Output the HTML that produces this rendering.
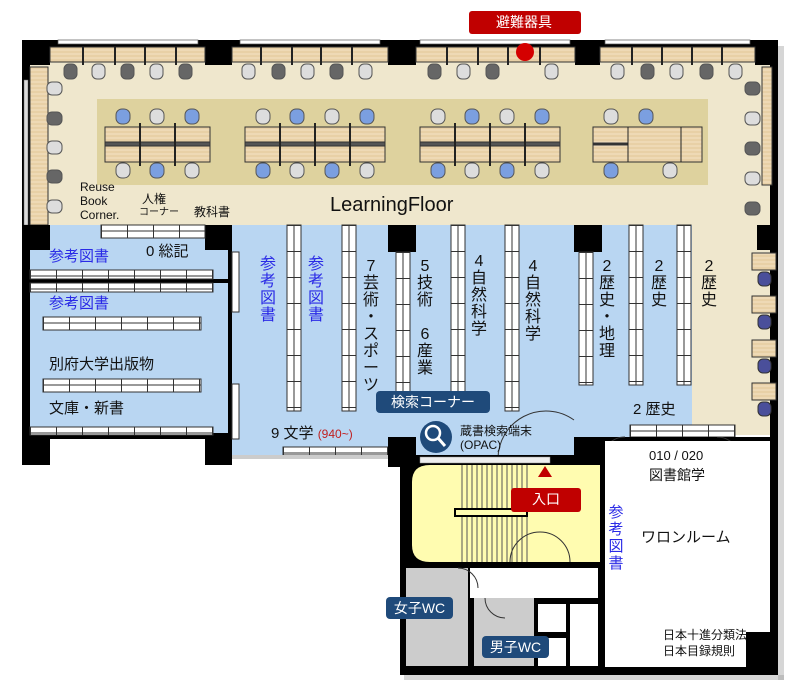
<!DOCTYPE html>
<html><head><meta charset="utf-8"><style>
body{margin:0;width:800px;height:688px;position:relative;background:#fff;overflow:hidden;font-family:"Liberation Sans","Noto Sans CJK JP",sans-serif;}
svg{position:absolute;left:0;top:0}
.t{position:absolute;color:#111;white-space:nowrap;line-height:1}
.v{position:absolute;color:#111;font-size:16px;line-height:17px;text-align:center;width:18px}
.b{color:#2a2ae6}
.lab{position:absolute;background:#1f4a7a;color:#fff;border-radius:4px;font-size:14px;text-align:center;line-height:22px}
</style></head><body>
<svg width="800" height="688" viewBox="0 0 800 688">
<defs>
<pattern id="vs" patternUnits="userSpaceOnUse" width="14" height="26">
<rect width="14" height="26" fill="#fff"/><line x1="7" y1="0" x2="7" y2="26" stroke="#333" stroke-width="1"/><line x1="0" y1="0.5" x2="14" y2="0.5" stroke="#333"/></pattern>
<pattern id="hs" patternUnits="userSpaceOnUse" width="26" height="12">
<rect width="26" height="12" fill="#fff"/><line x1="0" y1="6" x2="26" y2="6" stroke="#333"/><line x1="0.5" y1="0" x2="0.5" y2="12" stroke="#333"/></pattern>
<pattern id="wd" patternUnits="userSpaceOnUse" width="10" height="4">
<rect width="10" height="4" fill="#e8d0a6"/><line x1="0" y1="2" x2="10" y2="2" stroke="#f3e2c4" stroke-width="1"/></pattern>
</defs>
<!-- shadow -->
<rect x="778" y="46" width="6" height="634" fill="#999" opacity="0.4"/>
<rect x="404" y="675" width="380" height="5" fill="#999" opacity="0.4"/>
<!-- cream floor -->
<rect x="22" y="40" width="756" height="192" fill="#efe7cd"/>
<rect x="692" y="225" width="80" height="210" fill="#efe7cd"/>
<rect x="97" y="99" width="611" height="86" fill="#ded29e"/>
<!-- blue areas -->
<rect x="30" y="225" width="200" height="210" fill="#b9d6f2"/>
<rect x="232" y="225" width="460" height="230" fill="#b9d6f2"/>
<rect x="600" y="405" width="92" height="25" fill="#b9d6f2"/>
<!-- walls -->
<rect x="22" y="40" width="8" height="425" fill="#000"/>
<rect x="770" y="40" width="8" height="635" fill="#000"/>
<rect x="22" y="40" width="756" height="7" fill="#000"/>
<rect x="22" y="40" width="28" height="25" fill="#000"/>
<rect x="205" y="40" width="27" height="25" fill="#000"/>
<rect x="388" y="40" width="28" height="25" fill="#000"/>
<rect x="575" y="40" width="25" height="25" fill="#000"/>
<rect x="755" y="40" width="23" height="25" fill="#000"/>
<!-- top windows -->
<rect x="58" y="40" width="140" height="4" fill="#fff" stroke="#555" stroke-width="0.7"/>
<rect x="240" y="40" width="140" height="4" fill="#fff" stroke="#555" stroke-width="0.7"/>
<rect x="420" y="40" width="150" height="4" fill="#fff" stroke="#555" stroke-width="0.7"/>
<rect x="605" y="40" width="145" height="4" fill="#fff" stroke="#555" stroke-width="0.7"/>
<!-- top desks -->
<rect x="50" y="47" width="155" height="15" fill="url(#wd)" stroke="#333"/>
<rect x="232" y="47" width="156" height="15" fill="url(#wd)" stroke="#333"/>
<rect x="416" y="47" width="159" height="15" fill="url(#wd)" stroke="#333"/>
<rect x="600" y="47" width="155" height="15" fill="url(#wd)" stroke="#333"/>
<g stroke="#222" stroke-width="2">
<line x1="83" y1="47" x2="83" y2="65"/><line x1="115" y1="47" x2="115" y2="65"/><line x1="145" y1="47" x2="145" y2="65"/><line x1="176" y1="47" x2="176" y2="65"/>
<line x1="261" y1="47" x2="261" y2="65"/><line x1="292" y1="47" x2="292" y2="65"/><line x1="321" y1="47" x2="321" y2="65"/><line x1="352" y1="47" x2="352" y2="65"/>
<line x1="447" y1="47" x2="447" y2="65"/><line x1="478" y1="47" x2="478" y2="65"/><line x1="508" y1="47" x2="508" y2="65"/><line x1="540" y1="47" x2="540" y2="65"/>
<line x1="632" y1="47" x2="632" y2="65"/><line x1="662" y1="47" x2="662" y2="65"/><line x1="692" y1="47" x2="692" y2="65"/><line x1="722" y1="47" x2="722" y2="65"/>
</g>
<!-- left desk strip -->
<rect x="30" y="67" width="18" height="158" fill="url(#wd)" stroke="#333"/>
<rect x="24" y="80" width="4" height="145" fill="#ddd" stroke="#666" stroke-width="0.5"/>
<!-- right desk strip -->
<rect x="762" y="67" width="10" height="118" fill="url(#wd)" stroke="#333"/>
<!-- top chairs -->
<g stroke="#555" stroke-width="1">
<rect x="64" y="64" width="13" height="15" rx="5" fill="#666"/><rect x="92" y="64" width="13" height="15" rx="5" fill="#ddd"/><rect x="121" y="64" width="13" height="15" rx="5" fill="#666"/><rect x="150" y="64" width="13" height="15" rx="5" fill="#ddd"/><rect x="179" y="64" width="13" height="15" rx="5" fill="#666"/>
<rect x="242" y="64" width="13" height="15" rx="5" fill="#ddd"/><rect x="272" y="64" width="13" height="15" rx="5" fill="#666"/><rect x="301" y="64" width="13" height="15" rx="5" fill="#ddd"/><rect x="330" y="64" width="13" height="15" rx="5" fill="#666"/><rect x="359" y="64" width="13" height="15" rx="5" fill="#ddd"/>
<rect x="428" y="64" width="13" height="15" rx="5" fill="#666"/><rect x="457" y="64" width="13" height="15" rx="5" fill="#ddd"/><rect x="486" y="64" width="13" height="15" rx="5" fill="#666"/><rect x="545" y="64" width="13" height="15" rx="5" fill="#ddd"/>
<rect x="611" y="64" width="13" height="15" rx="5" fill="#ddd"/><rect x="641" y="64" width="13" height="15" rx="5" fill="#666"/><rect x="670" y="64" width="13" height="15" rx="5" fill="#ddd"/><rect x="700" y="64" width="13" height="15" rx="5" fill="#666"/><rect x="729" y="64" width="13" height="15" rx="5" fill="#ddd"/>
<rect x="47" y="82" width="15" height="13" rx="5" fill="#ddd"/><rect x="47" y="112" width="15" height="13" rx="5" fill="#666"/><rect x="47" y="141" width="15" height="13" rx="5" fill="#ddd"/><rect x="47" y="170" width="15" height="13" rx="5" fill="#666"/><rect x="47" y="200" width="15" height="13" rx="5" fill="#ddd"/>
<rect x="745" y="82" width="15" height="13" rx="5" fill="#666"/><rect x="745" y="112" width="15" height="13" rx="5" fill="#ddd"/><rect x="745" y="142" width="15" height="13" rx="5" fill="#666"/><rect x="745" y="172" width="15" height="13" rx="5" fill="#ddd"/><rect x="745" y="202" width="15" height="13" rx="5" fill="#666"/>
</g>
<!-- center tables -->
<g stroke="#333">
<rect x="105" y="127" width="105" height="35" fill="url(#wd)"/><rect x="105" y="142" width="105" height="4" fill="#555"/>
<rect x="245" y="127" width="140" height="35" fill="url(#wd)"/><rect x="245" y="142" width="140" height="4" fill="#555"/>
<rect x="420" y="127" width="140" height="35" fill="url(#wd)"/><rect x="420" y="142" width="140" height="4" fill="#555"/>
<rect x="593" y="127" width="109" height="35" fill="url(#wd)"/><rect x="593" y="143" width="35" height="2" fill="#333"/>
</g>
<g stroke="#222" stroke-width="2">
<line x1="140" y1="123" x2="140" y2="166"/><line x1="175" y1="123" x2="175" y2="166"/>
<line x1="280" y1="123" x2="280" y2="166"/><line x1="315" y1="123" x2="315" y2="166"/><line x1="350" y1="123" x2="350" y2="166"/>
<line x1="455" y1="123" x2="455" y2="166"/><line x1="490" y1="123" x2="490" y2="166"/><line x1="525" y1="123" x2="525" y2="166"/>
<line x1="628" y1="127" x2="628" y2="162" stroke-width="1"/><line x1="681" y1="127" x2="681" y2="162" stroke-width="1"/>
</g>
<g stroke="#555">
<rect x="116" y="109" width="14" height="15" rx="6" fill="#7b9fe0"/><rect x="150" y="109" width="14" height="15" rx="6" fill="#ddd"/><rect x="185" y="109" width="14" height="15" rx="6" fill="#7b9fe0"/>
<rect x="116" y="163" width="14" height="15" rx="6" fill="#ddd"/><rect x="150" y="163" width="14" height="15" rx="6" fill="#7b9fe0"/><rect x="185" y="163" width="14" height="15" rx="6" fill="#ddd"/>
<rect x="256" y="109" width="14" height="15" rx="6" fill="#ddd"/><rect x="290" y="109" width="14" height="15" rx="6" fill="#7b9fe0"/><rect x="325" y="109" width="14" height="15" rx="6" fill="#ddd"/><rect x="360" y="109" width="14" height="15" rx="6" fill="#7b9fe0"/>
<rect x="256" y="163" width="14" height="15" rx="6" fill="#7b9fe0"/><rect x="290" y="163" width="14" height="15" rx="6" fill="#ddd"/><rect x="325" y="163" width="14" height="15" rx="6" fill="#7b9fe0"/><rect x="360" y="163" width="14" height="15" rx="6" fill="#ddd"/>
<rect x="431" y="109" width="14" height="15" rx="6" fill="#ddd"/><rect x="465" y="109" width="14" height="15" rx="6" fill="#7b9fe0"/><rect x="500" y="109" width="14" height="15" rx="6" fill="#ddd"/><rect x="535" y="109" width="14" height="15" rx="6" fill="#7b9fe0"/>
<rect x="431" y="163" width="14" height="15" rx="6" fill="#7b9fe0"/><rect x="465" y="163" width="14" height="15" rx="6" fill="#ddd"/><rect x="500" y="163" width="14" height="15" rx="6" fill="#7b9fe0"/><rect x="535" y="163" width="14" height="15" rx="6" fill="#ddd"/>
<rect x="604" y="109" width="14" height="15" rx="6" fill="#ddd"/><rect x="639" y="109" width="14" height="15" rx="6" fill="#7b9fe0"/>
<rect x="604" y="163" width="14" height="15" rx="6" fill="#7b9fe0"/><rect x="663" y="163" width="14" height="15" rx="6" fill="#ddd"/>
</g>
<!-- right small desks -->
<g stroke="#333">
<rect x="752" y="253" width="24" height="17" fill="url(#wd)"/><rect x="752" y="296" width="24" height="17" fill="url(#wd)"/><rect x="752" y="340" width="24" height="17" fill="url(#wd)"/><rect x="752" y="383" width="24" height="17" fill="url(#wd)"/>
<rect x="758" y="272" width="13" height="14" rx="5" fill="#4a4f9a"/><rect x="758" y="315" width="13" height="14" rx="5" fill="#4a4f9a"/><rect x="758" y="359" width="13" height="14" rx="5" fill="#4a4f9a"/><rect x="758" y="402" width="13" height="14" rx="5" fill="#4a4f9a"/>
</g>
<!-- pillars row 2 -->
<rect x="22" y="225" width="28" height="25" fill="#000"/>
<rect x="205" y="225" width="27" height="25" fill="#000"/>
<rect x="388" y="225" width="28" height="27" fill="#000"/>
<rect x="574" y="225" width="28" height="27" fill="#000"/>
<rect x="757" y="225" width="21" height="25" fill="#000"/>
<!-- left room -->
<rect x="30" y="279" width="200" height="4" fill="#000"/>
<rect x="228" y="225" width="4" height="215" fill="#000"/>
<rect x="22" y="433" width="210" height="6" fill="#000"/>
<rect x="22" y="433" width="28" height="32" fill="#000"/>
<rect x="205" y="433" width="27" height="32" fill="#000"/>
<g transform="translate(101,225)"><rect width="104" height="13" fill="url(#hs)" stroke="#333"/></g>
<g transform="translate(30,270)"><rect width="183" height="9" fill="url(#hs)" stroke="#333"/></g>
<g transform="translate(30,283)"><rect width="183" height="9" fill="url(#hs)" stroke="#333"/></g>
<g transform="translate(43,317)"><rect width="158" height="13" fill="url(#hs)" stroke="#333"/></g>
<g transform="translate(43,379)"><rect width="158" height="13" fill="url(#hs)" stroke="#333"/></g>
<g transform="translate(30,427)"><rect width="183" height="8" fill="url(#hs)" stroke="#333"/></g>
<rect x="232" y="252" width="7" height="60" fill="#fff" stroke="#333"/>
<rect x="232" y="384" width="7" height="55" fill="#fff" stroke="#333"/>
<!-- vertical shelves -->
<g stroke="#333">
<g transform="translate(287,225)"><rect width="14" height="186" fill="url(#vs)"/></g>
<g transform="translate(342,225)"><rect width="14" height="186" fill="url(#vs)"/></g>
<g transform="translate(396,252)"><rect width="14" height="160" fill="url(#vs)"/></g>
<g transform="translate(451,225)"><rect width="14" height="170" fill="url(#vs)"/></g>
<g transform="translate(505,225)"><rect width="14" height="186" fill="url(#vs)"/></g>
<g transform="translate(579,252)"><rect width="14" height="133" fill="url(#vs)"/></g>
<g transform="translate(629,225)"><rect width="14" height="160" fill="url(#vs)"/></g>
<g transform="translate(677,225)"><rect width="14" height="160" fill="url(#vs)"/></g>
<g transform="translate(283,447)"><rect width="105" height="8" fill="url(#hs)"/></g>
<g transform="translate(630,425)"><rect width="105" height="12" fill="url(#hs)"/></g>
</g>
<!-- lower walls -->
<rect x="232" y="455" width="170" height="4" fill="#ccc"/>
<rect x="388" y="437" width="28" height="30" fill="#000"/>
<rect x="574" y="437" width="28" height="25" fill="#000"/>
<rect x="740" y="437" width="38" height="25" fill="#000"/>
<rect x="600" y="437" width="170" height="4" fill="#000"/>
<path d="M498 460 A48 48 0 0 1 574 420" fill="none" stroke="#333"/>
<path d="M602 460 A23 23 0 0 1 625 437" fill="none" stroke="#333"/>
<path d="M740 460 A23 23 0 0 0 717 437" fill="none" stroke="#333"/>
<!-- right room -->
<rect x="602" y="441" width="168" height="226" fill="#fff"/>
<rect x="600" y="437" width="5" height="232" fill="#000"/>
<rect x="746" y="632" width="32" height="43" fill="#000"/>
<!-- stair block -->
<rect x="400" y="455" width="202" height="212" fill="#000"/>
<path d="M430 465 H600 V562 H430 Q412 562 412 545 V482 Q412 465 430 465 Z" fill="#fffcb0"/>
<g stroke="#555" stroke-width="1">
<line x1="462" y1="465" x2="462" y2="562"/><line x1="467" y1="465" x2="467" y2="562"/><line x1="472" y1="465" x2="472" y2="562"/><line x1="477" y1="465" x2="477" y2="562"/><line x1="482" y1="465" x2="482" y2="562"/><line x1="487" y1="465" x2="487" y2="562"/><line x1="492" y1="465" x2="492" y2="562"/><line x1="497" y1="465" x2="497" y2="562"/><line x1="502" y1="465" x2="502" y2="562"/><line x1="507" y1="465" x2="507" y2="562"/><line x1="512" y1="465" x2="512" y2="562"/><line x1="517" y1="465" x2="517" y2="562"/><line x1="522" y1="465" x2="522" y2="562"/><line x1="527" y1="465" x2="527" y2="562"/>
</g>
<rect x="455" y="509" width="72" height="7" fill="#fffcb0" stroke="#000" stroke-width="2"/>
<path d="M510 562 A30 30 0 0 1 570 562" fill="none" stroke="#333"/>
<rect x="420" y="457" width="130" height="6" fill="#eee" stroke="#888" stroke-width="0.5"/>
<!-- WC -->
<rect x="406" y="568" width="62" height="98" fill="#ccc"/>
<rect x="470" y="568" width="128" height="30" fill="#fff"/>
<rect x="474" y="598" width="60" height="68" fill="#ccc"/>
<rect x="538" y="604" width="28" height="28" fill="#fff"/>
<rect x="538" y="638" width="28" height="28" fill="#fff"/>
<rect x="570" y="604" width="28" height="62" fill="#fff"/>
<path d="M458 568 A20 20 0 0 1 478 588" fill="none" stroke="#333"/>
<path d="M485 598 A20 20 0 0 0 505 618" fill="none" stroke="#333"/>
<rect x="400" y="667" width="378" height="8" fill="#000"/>
<!-- emergency -->
<rect x="469" y="11" width="112" height="23" rx="3" fill="#c00000"/>
<circle cx="525" cy="52" r="9" fill="#d40000"/>
<!-- OPAC icon -->
<circle cx="436" cy="437" r="16" fill="#1f4a7a"/>
<circle cx="433" cy="433" r="7" fill="none" stroke="#fff" stroke-width="2.5"/>
<line x1="438" y1="438" x2="445" y2="446" stroke="#fff" stroke-width="3"/>
<!-- entrance -->
<polygon points="545,466 538,477 552,477" fill="#c00000"/>
<rect x="511" y="488" width="70" height="24" rx="3" fill="#c00000"/>
</svg>

<div class="t" style="left:496px;top:15px;color:#fff;font-size:14px">避難器具</div>
<div class="t" style="left:330px;top:195px;font-size:20px">LearningFloor</div>
<div class="t" style="left:80px;top:180px;font-size:12px;line-height:14px">Reuse<br>Book<br>Corner.</div>
<div class="t" style="left:142px;top:193px;font-size:12px">人権</div>
<div class="t" style="left:139px;top:208px;font-size:10px">コーナー</div>
<div class="t" style="left:194px;top:206px;font-size:12px">教科書</div>
<div class="t b" style="left:49px;top:249px;font-size:15px">参考図書</div>
<div class="t" style="left:146px;top:244px;font-size:15px">0 総記</div>
<div class="t b" style="left:49px;top:296px;font-size:15px">参考図書</div>
<div class="t" style="left:49px;top:357px;font-size:15px">別府大学出版物</div>
<div class="t" style="left:49px;top:401px;font-size:15px">文庫・新書</div>
<div class="v b" style="left:259px;top:256px">参<br>考<br>図<br>書</div>
<div class="v b" style="left:307px;top:256px">参<br>考<br>図<br>書</div>
<div class="v" style="left:362px;top:258px">7<br>芸<br>術<br>・<br>ス<br>ポ<br>ー<br>ツ</div>
<div class="v" style="left:416px;top:258px">5<br>技<br>術<br><br>6<br>産<br>業</div>
<div class="v" style="left:470px;top:253px">4<br>自<br>然<br>科<br>学</div>
<div class="v" style="left:524px;top:258px">4<br>自<br>然<br>科<br>学</div>
<div class="v" style="left:598px;top:258px">2<br>歴<br>史<br>・<br>地<br>理</div>
<div class="v" style="left:650px;top:258px">2<br>歴<br>史</div>
<div class="v" style="left:700px;top:258px">2<br>歴<br>史</div>
<div class="t" style="left:633px;top:402px;font-size:15px">2 歴史</div>
<div class="t" style="left:271px;top:426px;font-size:15px">9 文学 <span style="color:#c02020;font-size:12px">(940~)</span></div>
<div class="lab" style="left:376px;top:391px;width:114px">検索コーナー</div>
<div class="t" style="left:460px;top:424px;font-size:12px;line-height:14px">蔵書検索端末<br>(OPAC)</div>
<div class="t" style="left:532px;top:492px;color:#fff;font-size:14px">入口</div>
<div class="t" style="left:649px;top:449px;font-size:13px">010 / 020</div>
<div class="t" style="left:649px;top:468px;font-size:14px">図書館学</div>
<div class="v b" style="left:607px;top:504px;font-size:15px">参<br>考<br>図<br>書</div>
<div class="t" style="left:641px;top:530px;font-size:15px">ワロンルーム</div>
<div class="t" style="left:663px;top:627px;font-size:12px;line-height:16px">日本十進分類法<br>日本目録規則</div>
<div class="lab" style="left:386px;top:597px;width:67px">女子WC</div>
<div class="lab" style="left:482px;top:636px;width:67px">男子WC</div>
</body></html>
